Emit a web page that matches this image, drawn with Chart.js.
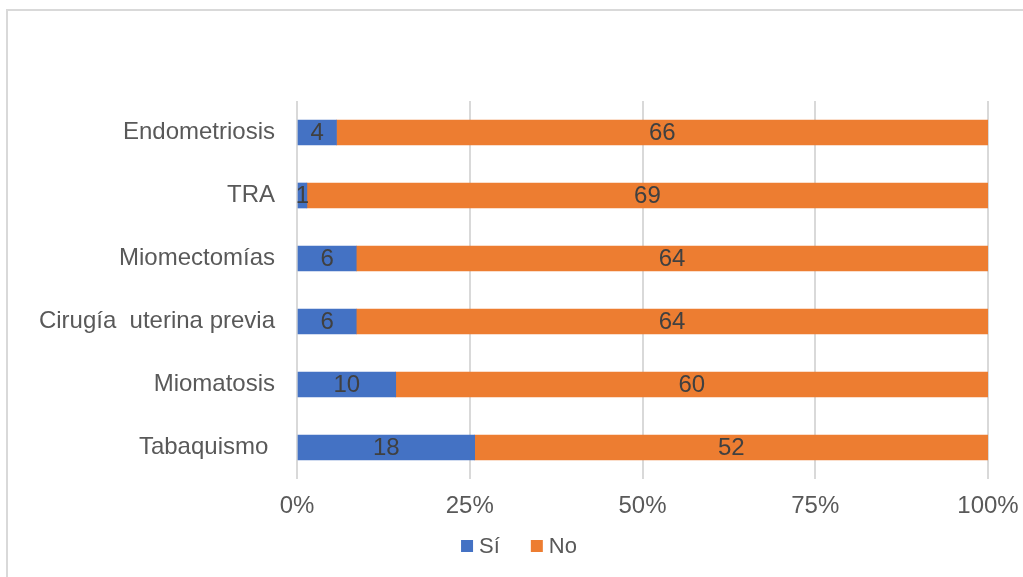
<!DOCTYPE html>
<html>
<head>
<meta charset="utf-8">
<script src="https://cdn.jsdelivr.net/npm/chart.js@4.4.0/dist/chart.umd.min.js"></script>
<style>
  html, body { margin: 0; padding: 0; background: #ffffff; }
  #wrap { position: relative; width: 1023px; height: 577px; }
</style>
</head>
<body>
<div id="wrap"><canvas id="c" width="1023" height="577"></canvas></div>
<script>
// Risk factors: number of patients with (Sí) and without (No) each factor
const categories = ['Endometriosis', 'TRA', 'Miomectomías', 'Cirugía  uterina previa', 'Miomatosis', 'Tabaquismo '];
const siValues = [4, 1, 6, 6, 10, 18];
const noValues = [66, 69, 64, 64, 60, 52];
const seriesNames = ['Sí', 'No'];
const percentTicks = [0, 25, 50, 75, 100];

const FONT = '"Liberation Sans", Arial, sans-serif';
const TEXT = '#595959';
const BLUE = '#4472C4';
const ORANGE = '#ED7D31';

// Each row is shown as a share of its own total (100% stacked)
const toShare = (arr) => arr.map((v, i) => v / (siValues[i] + noValues[i]) * 100);

// Light frame around the chart
const frame = {
  id: 'frame',
  beforeDraw(chart) {
    const ctx = chart.ctx;
    ctx.save();
    ctx.strokeStyle = '#d9d9d9';
    ctx.lineWidth = 2;
    ctx.beginPath();
    ctx.moveTo(7, chart.height + 2);
    ctx.lineTo(7, 10);
    ctx.lineTo(chart.width + 2, 10);
    ctx.stroke();
    ctx.restore();
  }
};

// Count labels centred in each bar segment
const valueLabels = {
  id: 'valueLabels',
  afterDatasetsDraw(chart) {
    const ctx = chart.ctx;
    ctx.save();
    ctx.font = '24px ' + FONT;
    ctx.fillStyle = '#404040';
    ctx.textAlign = 'center';
    ctx.textBaseline = 'middle';
    chart.data.datasets.forEach((ds, i) => {
      chart.getDatasetMeta(i).data.forEach((bar, j) => {
        const p = bar.getProps(['x', 'y', 'base'], true);
        ctx.fillText(String(ds.counts[j]), (p.x + p.base) / 2, p.y + 1);
      });
    });
    ctx.restore();
  }
};

// Legend drawn below the axis: square swatch followed by the series name
const bottomLegend = {
  id: 'bottomLegend',
  afterDraw(chart, args, opts) {
    const ctx = chart.ctx;
    ctx.save();
    ctx.font = opts.fontSize + 'px ' + FONT;
    ctx.textBaseline = 'middle';
    ctx.textAlign = 'left';
    const items = chart.data.datasets.map(ds => ({ text: ds.label, color: ds.backgroundColor, w: ctx.measureText(ds.label).width }));
    let total = 0;
    items.forEach((it, k) => { total += opts.box + opts.gap + it.w + (k < items.length - 1 ? opts.spacing : 0); });
    let x = opts.centerX - total / 2;
    items.forEach(it => {
      ctx.fillStyle = it.color;
      ctx.fillRect(x, opts.y - opts.box / 2, opts.box, opts.box);
      x += opts.box + opts.gap;
      ctx.fillStyle = TEXT;
      ctx.fillText(it.text, x, opts.y + 1);
      x += it.w + opts.spacing;
    });
    ctx.restore();
  }
};

new Chart(document.getElementById('c'), {
  type: 'bar',
  data: {
    labels: categories,
    datasets: [
      { label: seriesNames[0], data: toShare(siValues), counts: siValues, backgroundColor: BLUE, barThickness: 25 },
      { label: seriesNames[1], data: toShare(noValues), counts: noValues, backgroundColor: ORANGE, barThickness: 25 }
    ]
  },
  options: {
    indexAxis: 'y',
    responsive: false,
    animation: false,
    devicePixelRatio: 1,
    layout: { padding: { top: 101, right: 35, left: 0, bottom: 48 } },
    scales: {
      x: {
        stacked: true,
        min: 0,
        max: 100,
        afterBuildTicks(scale) { scale.ticks = percentTicks.map(v => ({ value: v })); },
        afterFit(scale) {
          scale.height = 50;
          // the end labels fit inside the layout padding, so no extra room is reserved
          scale.paddingLeft = 0;
          scale.paddingRight = 0;
        },
        grid: { color: '#d9d9d9', lineWidth: 2, drawTicks: false },
        border: { display: false },
        ticks: { padding: 13, color: TEXT, font: { family: FONT, size: 24 }, callback: v => v + '%' }
      },
      y: {
        stacked: true,
        afterFit(scale) { scale.width = 297; },
        grid: { display: false, drawTicks: false },
        border: { display: false },
        ticks: { padding: 22, color: TEXT, font: { family: FONT, size: 24 } }
      }
    },
    plugins: {
      legend: { display: false },
      tooltip: { enabled: false },
      bottomLegend: { centerX: 519, y: 546, box: 12, gap: 6, spacing: 31, fontSize: 22 }
    }
  },
  plugins: [frame, valueLabels, bottomLegend]
});
</script>
</body>
</html>
